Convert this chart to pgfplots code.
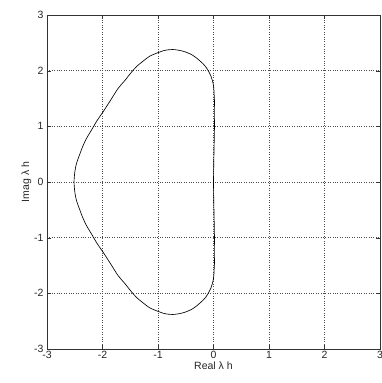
\documentclass[border=0pt]{standalone}
\usepackage{pgfplots}
\pgfplotsset{compat=1.18}
\usepackage{fontspec}
\setmainfont{Liberation Sans}
\begin{document}
\begin{tikzpicture}[x=1pt,y=1pt]
\begin{axis}[
  name=ax,
  at={(0,0)}, anchor=south west,
  width=333pt, height=334pt, scale only axis,
  xmin=-3, xmax=3, ymin=-3, ymax=3,
  xtick={-3,-2,-1,0,1,2,3}, ytick={-3,-2,-1,0,1,2,3},
  grid=major,
  major grid style={black!70, dotted, line width=0.6pt},
  tick align=inside, tick pos=both,
  major tick length=4pt,
  axis line style={black!80, line width=0.6pt},
  tick style={black!80},
  /pgf/number format/assume math mode=true,
  ticklabel style={font=\fontsize{10.5}{12}\selectfont, text=black!85},
  xticklabel style={yshift=1pt},
  xlabel={Real λ h}, ylabel={Imag λ h},
  label style={font=\fontsize{10.5}{12}\selectfont, text=black!85},
  xlabel style={yshift=4pt},
  ylabel style={yshift=-4pt},
]
\addplot[black, line width=0.65pt, smooth, tension=0.55] coordinates {
(0,0) (0.004,0.3) (0.01,0.6) (0.016,0.9) (0.02,1.2) (0.018,1.45) (0.01,1.6)
(0,1.732) (-0.045,1.9) (-0.14,2.07) (-0.25,2.18) (-0.38,2.28) (-0.55,2.35)
(-0.74,2.38) (-0.9,2.36) (-1.01,2.32) (-1.15,2.26) (-1.27,2.17) (-1.38,2.08)
(-1.48,1.97) (-1.60,1.82) (-1.72,1.68) (-1.86,1.46) (-1.99,1.26) (-2.10,1.10)
(-2.20,0.93) (-2.29,0.78) (-2.36,0.63) (-2.42,0.47) (-2.47,0.33) (-2.50,0.17)
(-2.513,0)
(-2.50,-0.17) (-2.47,-0.33) (-2.42,-0.47) (-2.36,-0.63) (-2.29,-0.78)
(-2.20,-0.93) (-2.10,-1.10) (-1.99,-1.26) (-1.86,-1.46) (-1.72,-1.68)
(-1.60,-1.82) (-1.48,-1.97) (-1.38,-2.08) (-1.27,-2.17) (-1.15,-2.26)
(-1.01,-2.32) (-0.9,-2.36) (-0.74,-2.38) (-0.55,-2.35) (-0.38,-2.28)
(-0.25,-2.18) (-0.14,-2.07) (-0.045,-1.9) (0,-1.732) (0.01,-1.6)
(0.018,-1.45) (0.02,-1.2) (0.016,-0.9) (0.01,-0.6) (0.004,-0.3) (0,0)
};
\end{axis}
\pgfresetboundingbox
\path (-47,-34) rectangle (335,349);
\end{tikzpicture}
\end{document}
